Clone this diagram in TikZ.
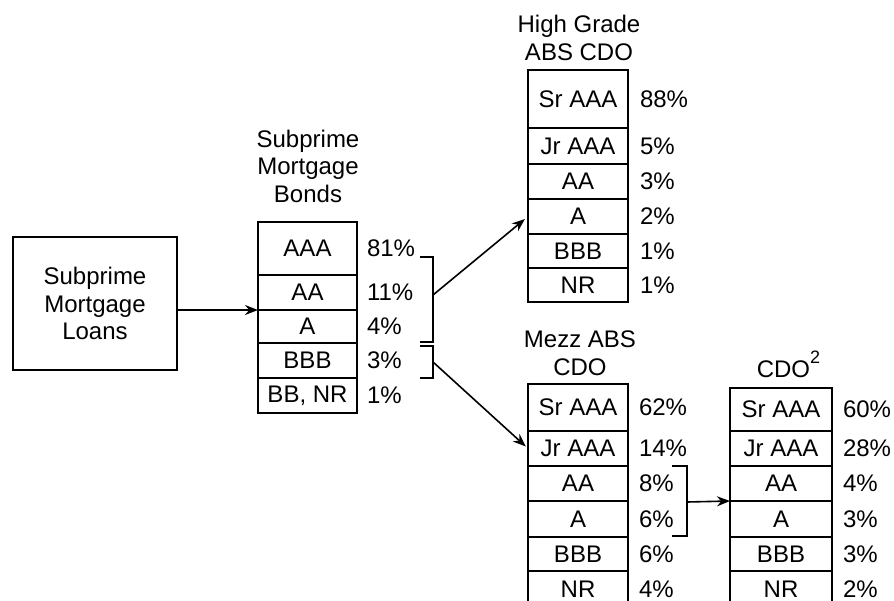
\documentclass[tikz,border=0pt]{standalone}
\usepackage{fontspec}
\setmainfont{Liberation Sans}
\usetikzlibrary{arrows.meta}

\begin{document}
\begin{tikzpicture}[x=0.5pt,y=-0.5pt,line width=0.8pt,
  every node/.style={font=\fontsize{12}{13.75}\selectfont,inner sep=0pt,outer sep=0pt},
  title/.style={align=center},
  row/.style={draw,minimum width=#1},
  row/.default=50pt,
  pct/.style={anchor=west},
  arr/.style={-{Stealth[length=6.5pt,width=5pt]}}]
\clip (0,0) rectangle (894,600);

% loans
\node[draw,minimum width=82pt,minimum height=66.5pt,align=center] (loans) at (95,303.5) {Subprime\\Mortgage\\Loans};

% subprime mortgage bonds
\node[title] (bt) at (308,166) {Subprime\\Mortgage\\Bonds};
\foreach \t/\b/\lab/\pc [count=\i] in {222/275/AAA/81,275/310/AA/11,310/343/A/4,343/378/BBB/3,378/413/{BB, NR}/1}
  {
  \node[row=49.5pt,minimum height={(\b-\t)*0.5pt}] (b\i) at (307.5,{(\t+\b)/2}) {\lab};
  \node[pct] (bp\i) at ([xshift=5pt]b\i.east) {\pc\%};
  }

% high grade abs cdo
\node[title] (ht) at (579,38) {High Grade\\ABS CDO};
\foreach \t/\b/\lab/\pc [count=\i] in {70/128/Sr AAA/88,128/164/Jr AAA/5,164/199/AA/3,199/234/A/2,234/268/BBB/1,268/302/NR/1}
  {
  \node[row,minimum height={(\b-\t)*0.5pt}] (h\i) at (578,{(\t+\b)/2}) {\lab};
  \node[pct] (hp\i) at ([xshift=6pt]h\i.east) {\pc\%};
  }

% mezz abs cdo
\node[title] (mt) at (580,353) {Mezz ABS\\CDO};
\foreach \t/\b/\lab/\pc [count=\i] in {384/431/Sr AAA/62,431/466/Jr AAA/14,466/501/AA/8,501/537/A/6,537/571/BBB/6,571/608/NR/4}
  {
  \node[row,minimum height={(\b-\t)*0.5pt}] (m\i) at (578,{(\t+\b)/2}) {\lab};
  \node[pct] (mp\i) at ([xshift=5.5pt]m\i.east) {\pc\%};
  }

% cdo squared
\node[anchor=base] (ct) at (788.5,377) {CDO\raisebox{7pt}{\fontsize{9}{9}\selectfont 2}};
\foreach \t/\b/\lab/\pc [count=\i] in {388/431/Sr AAA/60,431/466/Jr AAA/28,466/501/AA/4,501/537/A/3,537/571/BBB/3,571/608/NR/2}
  {
  \node[row=51pt,minimum height={(\b-\t)*0.5pt}] (c\i) at (781,{(\t+\b)/2}) {\lab};
  \node[pct] (cp\i) at ([xshift=5.5pt]c\i.east) {\pc\%};
  }

% brackets
\draw (420,257) -| (433,342) -- (420,342);
\draw (420,346) -| (433,378) -- (420,378);
\draw (672,466) -| (687,536) -- (672,536);
\coordinate (br1) at (433,295);
\coordinate (br2) at (433,362);
\coordinate (br3) at (687,502);

% arrows
\draw[arr] (loans.east |- b2.south west) -- (b2.south west);
\draw[arr,shorten >=2pt] (br1) -- (h4.west);
\draw[arr,shorten >=1.5pt] (br2) -- (m2.west);
\draw[arr] (br3) -- (c3.south west);
\end{tikzpicture}
\end{document}
